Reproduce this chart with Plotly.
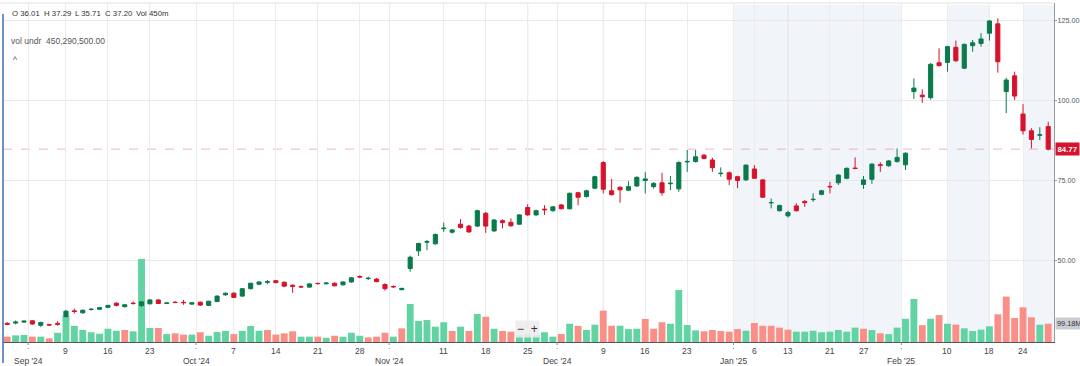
import plotly.graph_objects as go

# ---------------- data ----------------
month_days = {
    "2024-08": [28, 29, 30],
    "2024-09": [3, 4, 5, 6, 9, 10, 11, 12, 13, 16, 17, 18, 19, 20, 23, 24, 25, 26, 27, 30],
    "2024-10": [1, 2, 3, 4, 7, 8, 9, 10, 11, 14, 15, 16, 17, 18, 21, 22, 23, 24, 25, 28, 29, 30, 31],
    "2024-11": [1, 4, 5, 6, 7, 8, 11, 12, 13, 14, 15, 18, 19, 20, 21, 22, 25, 26, 27, 29],
    "2024-12": [2, 3, 4, 5, 6, 9, 10, 11, 12, 13, 16, 17, 18, 19, 20, 23, 24, 26, 27, 30, 31],
    "2025-01": [2, 3, 6, 7, 8, 10, 13, 14, 15, 16, 17, 21, 22, 23, 24, 27, 28, 29, 30, 31],
    "2025-02": [3, 4, 5, 6, 7, 10, 11, 12, 13, 14, 18, 19, 20, 21, 24, 25, 26, 27],
}
dates = [f"{m}-{d:02d}" for m, ds in month_days.items() for d in ds]

opens = [
    30.5, 30.6, 30.9, 31.3, 29.9, 30.1, 30.5,
    32.6, 34.4, 33.8, 34.8, 34.9, 35.5, 36.8, 35.7, 36.8, 36.01,
    36.6, 37.8, 36.7, 37.1, 37.05, 36.5,
    37.1, 36.1, 37.3, 39.4, 39.9, 39.0, 41.3, 42.7, 43.3, 43.8, 43.3, 42.4, 41.95, 41.8,
    42.95, 42.85, 43.0, 42.5, 43.4, 45.1, 44.45, 44.3, 42.6,
    42.0, 41.0, 47.6, 53.1, 55.8, 55.3, 60.0, 58.9, 61.4, 60.8, 60.8, 64.8, 59.3, 62.5,
    62.0, 61.4, 66.6, 64.3, 66.1, 65.6,
    67.4, 66.2, 71.2, 70.0, 72.6, 80.6, 71.8, 72.9, 72.0, 73.3, 75.0, 73.1, 74.3, 74.0,
    72.4, 80.8, 80.9, 82.9, 81.4, 77.15, 77.4,
    76.2, 75.2, 78.6, 75.2, 68.05, 65.6, 64.0, 67.1, 68.5, 69.05, 70.7, 73.15, 74.3, 75.7,
    78.9, 73.8, 75.4, 79.9, 79.6, 80.9,
    79.9, 102.7, 101.6, 100.8, 111.7, 111.8, 116.5, 110.0, 117.0, 117.7, 120.9, 123.8,
    102.7, 107.6, 95.7, 90.5, 89.1, 91.8,
]
highs = [
    30.9, 31.4, 31.3, 31.5, 31.0, 30.4, 31.2,
    34.7, 35.1, 34.8, 35.2, 35.6, 36.3, 37.1, 36.5, 37.3, 37.29,
    38.0, 38.0, 37.0, 37.4, 37.8, 37.0,
    37.3, 37.5, 39.2, 40.1, 40.2, 41.5, 43.2, 43.6, 44.0, 44.0, 43.6, 42.6, 42.3, 43.0,
    43.2, 43.3, 43.3, 43.6, 44.9, 45.5, 45.0, 44.6, 43.0,
    42.3, 41.6, 51.6, 55.6, 56.5, 58.5, 61.9, 59.9, 63.0, 61.2, 65.9, 65.2, 63.0, 62.9,
    63.2, 64.5, 67.6, 65.9, 67.3, 67.0,
    67.7, 71.3, 71.5, 72.1, 76.5, 81.0, 75.5, 73.2, 74.8, 76.3, 77.7, 74.5, 77.4, 76.4,
    81.0, 84.5, 84.5, 83.3, 82.1, 79.1, 77.8,
    76.5, 80.0, 79.8, 75.5, 69.4, 67.5, 65.6, 67.9, 68.9, 71.0, 72.1, 74.6, 77.0, 79.1,
    82.2, 76.4, 80.4, 80.7, 81.4, 85.0,
    83.8, 106.8, 103.4, 111.6, 116.2, 117.0, 118.6, 117.7, 118.8, 120.9, 125.0, 125.5,
    107.0, 108.9, 98.8, 91.3, 91.6, 93.3,
]
lows = [
    30.0, 30.2, 30.7, 30.1, 29.4, 29.8, 29.8,
    32.4, 33.6, 33.5, 34.5, 34.7, 35.3, 35.8, 35.5, 36.3, 35.71,
    36.4, 36.5, 36.5, 36.8, 36.3, 36.3,
    35.9, 35.9, 37.1, 39.1, 38.4, 38.8, 41.1, 42.4, 42.7, 43.0, 41.8, 40.0, 41.6, 41.6,
    42.6, 42.6, 42.0, 42.3, 43.2, 44.6, 44.0, 43.3, 40.7,
    41.5, 40.8, 46.6, 51.5, 53.3, 55.0, 59.0, 58.5, 60.0, 58.7, 60.5, 58.7, 59.0, 60.1,
    60.6, 61.2, 64.0, 64.0, 64.3, 65.3,
    66.0, 66.0, 67.3, 69.7, 72.3, 71.0, 70.3, 68.1, 71.7, 73.0, 71.0, 72.5, 70.3, 72.0,
    71.5, 77.7, 80.6, 81.6, 77.7, 76.2, 73.6,
    72.6, 74.9, 75.5, 69.6, 66.3, 65.3, 63.5, 65.3, 66.8, 68.4, 70.4, 71.0, 73.6, 75.4,
    78.5, 72.4, 74.0, 77.7, 79.3, 80.6,
    78.3, 100.4, 99.2, 100.2, 110.5, 108.9, 112.0, 109.7, 115.1, 116.7, 118.6, 108.6,
    96.0, 100.1, 89.3, 85.0, 87.6, 84.4,
]
closes = [
    30.2, 30.9, 31.2, 30.3, 30.8, 30.0, 30.2,
    34.3, 34.2, 34.6, 34.9, 35.4, 36.1, 36.1, 36.3, 36.7, 37.20,
    37.8, 36.7, 36.85, 37.0, 36.95, 36.9,
    36.2, 37.4, 39.0, 39.9, 38.6, 41.3, 43.0, 43.4, 43.45, 43.2, 42.1, 42.0, 41.85, 42.8,
    42.9, 43.05, 42.2, 43.4, 44.7, 44.95, 44.55, 43.5, 41.3,
    41.9, 41.4, 51.1, 55.4, 55.95, 58.2, 60.15, 59.6, 60.4, 59.0, 65.6, 60.8, 62.7, 61.9,
    60.9, 64.3, 64.3, 65.6, 65.9, 66.8,
    66.2, 71.0, 69.8, 71.8, 76.2, 72.3, 70.6, 72.1, 73.1, 76.0, 75.5, 74.1, 71.2, 74.15,
    80.6, 80.95, 82.4, 81.9, 79.0, 77.25, 75.4,
    75.0, 79.8, 75.7, 69.8, 68.15, 67.2, 65.0, 65.6, 68.1, 69.15, 71.8, 73.05, 76.7, 78.8,
    78.75, 75.2, 80.1, 79.75, 81.1, 82.2,
    83.5, 103.8, 101.1, 111.2, 110.8, 116.7, 112.3, 117.4, 117.9, 119.1, 124.7, 112.0,
    106.3, 101.3, 90.5, 87.8, 89.25, 84.77,
]
# volume in millions of shares
volumes = [
    29, 36, 38, 29, 29, 20, 50,
    143, 87, 65, 53, 45, 72, 61, 65, 58, 450.2905,
    76, 76, 43, 47, 40, 40,
    53, 34, 54, 60, 43, 60, 87, 61, 65, 40, 47, 58, 29, 29,
    29, 23, 34, 29, 50, 34, 25, 29, 50,
    29, 74, 206, 114, 119, 83, 107, 60, 83, 60, 152, 137, 72, 60,
    56, 38, 42, 38, 53, 29,
    43, 99, 87, 65, 94, 170, 88, 88, 70, 72, 125, 72, 107, 99,
    282, 92, 63, 58, 65, 60, 56,
    70, 61, 103, 88, 88, 78, 67, 56, 56, 61, 53, 56, 65, 56,
    78, 72, 65, 47, 43, 78,
    126, 233, 91, 126, 146, 99, 94, 74, 60, 67, 85, 150,
    246, 130, 188, 134, 94, 99.18,
]
# volume bar direction (G = up, R = down)
vol_dir = list(
    "RGGRGRG"
    "GGGGGGGRGG"
    "GRGRRG"
    "RGGGRGGGRRRRGGRGRGGGRRR"
    "GRGGGGGRGRGRGRRGGGGG"
    "RGRGGRRGGGRRRGGGGRRRR"
    "RGRRRRRGGGGGGGGRGRGG"
    "GGRGRGRGGGGRRRRRGR"
)

day_ticks = ["2024-09-09", "2024-09-16", "2024-09-23", "2024-10-07", "2024-10-14", "2024-10-21",
             "2024-10-28", "2024-11-11", "2024-11-18", "2024-11-25", "2024-12-09", "2024-12-16",
             "2024-12-23", "2025-01-06", "2025-01-13", "2025-01-21", "2025-01-27", "2025-02-10",
             "2025-02-18", "2025-02-24"]
day_labels = ["9", "16", "23", "7", "14", "21", "28", "11", "18", "25", "9", "16", "23",
              "6", "13", "21", "27", "10", "18", "24"]
month_starts = ["2024-09-03", "2024-10-01", "2024-11-01", "2024-12-02", "2025-01-02", "2025-02-03"]
month_labels = ["Sep '24", "Oct '24", "Nov '24", "Dec '24", "Jan '25", "Feb '25"]
strong_grid = ["2024-11-25", "2024-12-09", "2025-01-13", "2025-02-10", "2025-02-18"]
hover_day = "2024-09-20"

n = len(dates)
for name, arr in [("opens", opens), ("highs", highs), ("lows", lows), ("closes", closes),
                  ("volumes", volumes), ("vol_dir", vol_dir)]:
    if len(arr) != n:
        raise SystemExit(f"{name} has {len(arr)} values, expected {n}")

# ---------------- styling ----------------
FONT = "Liberation Sans, Arial, sans-serif"
UP, DOWN = "#0a7a4c", "#d8122c"
VUP, VDOWN = "#62d3a2", "#fa8f87"
W, H = 1080, 366
ML, MR, MT, MB = 3, 26, 3, 24
PW, PH = W - ML - MR, H - MT - MB

x = list(range(n))
pos = {d: i for i, d in enumerate(dates)}
x_lo, x_hi = -0.5, n - 1 + 0.69
vol_px = 5.42  # millions per pixel
price_lo, price_hi = 24.7, 130.3


def px_x(p):
    return (p - ML) / PW


def px_y(p):
    return (H - MB - p) / PH


fig = go.Figure()
fig.add_trace(go.Bar(
    x=x, y=volumes, yaxis="y", width=0.82,
    marker=dict(color=[VUP if v == "G" else VDOWN for v in vol_dir], line=dict(width=0)),
    hoverinfo="skip",
))
fig.add_trace(go.Candlestick(
    x=x, open=opens, high=highs, low=lows, close=closes, yaxis="y2",
    increasing=dict(fillcolor=UP, line=dict(color=UP, width=1)),
    decreasing=dict(fillcolor=DOWN, line=dict(color=DOWN, width=1)),
    whiskerwidth=0,
))

month_pos = [pos[m] - 0.5 for m in month_starts]
day_pos = [pos[d] for d in day_ticks]

shapes = []
# shaded periods
bands = [(pos["2025-01-02"] - 0.5, pos["2025-02-03"] - 0.5),
         (pos["2025-02-10"], pos["2025-02-18"]),
         (pos["2025-02-24"], x_hi)]
for a, b in bands:
    shapes.append(dict(type="rect", xref="x", yref="paper", x0=a, x1=b, y0=0, y1=px_y(5),
                       fillcolor="#f1f5f9", line=dict(width=0), layer="below"))
# stronger vertical grid lines
for d in strong_grid:
    shapes.append(dict(type="line", xref="x", yref="paper", x0=pos[d], x1=pos[d], y0=0, y1=px_y(5),
                       line=dict(color="#d9d9d9", width=1), layer="between"))
# dotted month ticks
for m in month_pos:
    shapes.append(dict(type="line", xref="x", yref="paper", x0=m, x1=m, y0=0, y1=px_y(349),
                       line=dict(color="#888", width=1, dash="dot")))
# last-price dashed line
shapes.append(dict(type="line", xref="paper", yref="y2", x0=0, x1=1, y0=closes[-1], y1=closes[-1],
                   line=dict(color="rgba(232,120,140,0.55)", width=1, dash="dash"), layer="between"))
# top border
shapes.append(dict(type="line", xref="paper", yref="paper", x0=-0.01, x1=1, y0=1, y1=1,
                   line=dict(color="#e2e2e2", width=1)))
# left blue border
shapes.append(dict(type="line", xref="paper", yref="paper", x0=0, x1=0, y0=px_y(363), y1=px_y(14),
                   line=dict(color="#3e6db3", width=1.5)))

ann = []
for p, t in zip(day_pos, day_labels):
    ann.append(dict(x=p, y=px_y(351), xref="x", yref="paper", text=t, showarrow=False,
                    font=dict(size=8.5, color="#444", family=FONT), xanchor="center", yanchor="middle"))
for p, t in zip(month_pos, month_labels):
    ann.append(dict(x=p, y=px_y(360.5), xref="x", yref="paper", text=t, showarrow=False,
                    font=dict(size=8.5, color="#444", family=FONT), xanchor="center", yanchor="middle"))

hi = pos[hover_day]
head = [(10, f"O {opens[hi]:.2f}"), (42, f"H {highs[hi]:.2f}"), (73, f"L {lows[hi]:.2f}"),
        (103, f"C {closes[hi]:.2f}"), (134, f"Vol {volumes[hi]:.0f}m")]
for xp, t in head:
    ann.append(dict(x=px_x(xp), y=px_y(13.5), xref="paper", yref="paper", text=t, showarrow=False,
                    font=dict(size=7.8, color="#333", family=FONT), xanchor="left", yanchor="middle"))
ann.append(dict(x=px_x(9), y=px_y(41), xref="paper", yref="paper",
                text=f"vol undr  {volumes[hi] * 1e6:,.2f}", showarrow=False,
                font=dict(size=8.5, color="#555", family=FONT), xanchor="left", yanchor="middle"))
ann.append(dict(x=px_x(11), y=px_y(60), xref="paper", yref="paper", text="^", showarrow=False,
                font=dict(size=8.5, color="#555", family=FONT), xanchor="left", yanchor="middle"))
# last price tag
ann.append(dict(x=1, y=closes[-1], xref="paper", yref="y2", text=f"<b>{closes[-1]:.2f}</b>",
                showarrow=False, xanchor="left", yanchor="middle", xshift=1,
                bgcolor="#d8122c", borderpad=1.5,
                font=dict(size=7.8, color="white", family=FONT)))
# last volume tag
ann.append(dict(x=1, y=volumes[-1], xref="paper", yref="y", text=f"{volumes[-1]:.2f}M",
                showarrow=False, xanchor="left", yanchor="middle", xshift=0.5,
                bgcolor="#c9cdd2", borderpad=1,
                font=dict(size=7.3, color="#333", family=FONT)))
# zoom control
ann.append(dict(x=px_x(527), y=px_y(329), xref="paper", yref="paper", text="−  +",
                showarrow=False, xanchor="center", yanchor="middle",
                bgcolor="rgba(236,236,236,0.9)", borderpad=1,
                font=dict(size=12, color="#333", family=FONT)))

fig.update_layout(
    width=W, height=H, margin=dict(l=ML, r=MR, t=MT, b=MB, autoexpand=False),
    paper_bgcolor="white", plot_bgcolor="white", showlegend=False,
    font=dict(family=FONT),
    xaxis=dict(range=[x_lo, x_hi], tickvals=day_pos + month_pos, showticklabels=False,
               showgrid=True, gridcolor="#ececec", gridwidth=1, zeroline=False,
               showline=True, linecolor="#555", linewidth=1, ticks="", automargin=False,
               rangeslider=dict(visible=False), fixedrange=True),
    yaxis=dict(range=[0, PH * vol_px], visible=False, fixedrange=True, automargin=False),
    yaxis2=dict(overlaying="y", anchor="x", side="right", range=[price_lo, price_hi],
                tickvals=[50, 75, 100, 125], tickformat=".2f", automargin=False,
                showgrid=True, gridcolor="#e8e8e8", zeroline=False,
                showline=True, linecolor="#999", linewidth=1,
                ticks="outside", ticklen=2, tickcolor="#999", ticklabelstandoff=-1,
                tickfont=dict(size=7.2, color="#555", family=FONT), fixedrange=True),
    shapes=shapes, annotations=ann,
)

fig.write_html("out.html", config={"displayModeBar": False},
               post_script="document.body.style.margin='0';document.body.style.overflow='hidden';")
